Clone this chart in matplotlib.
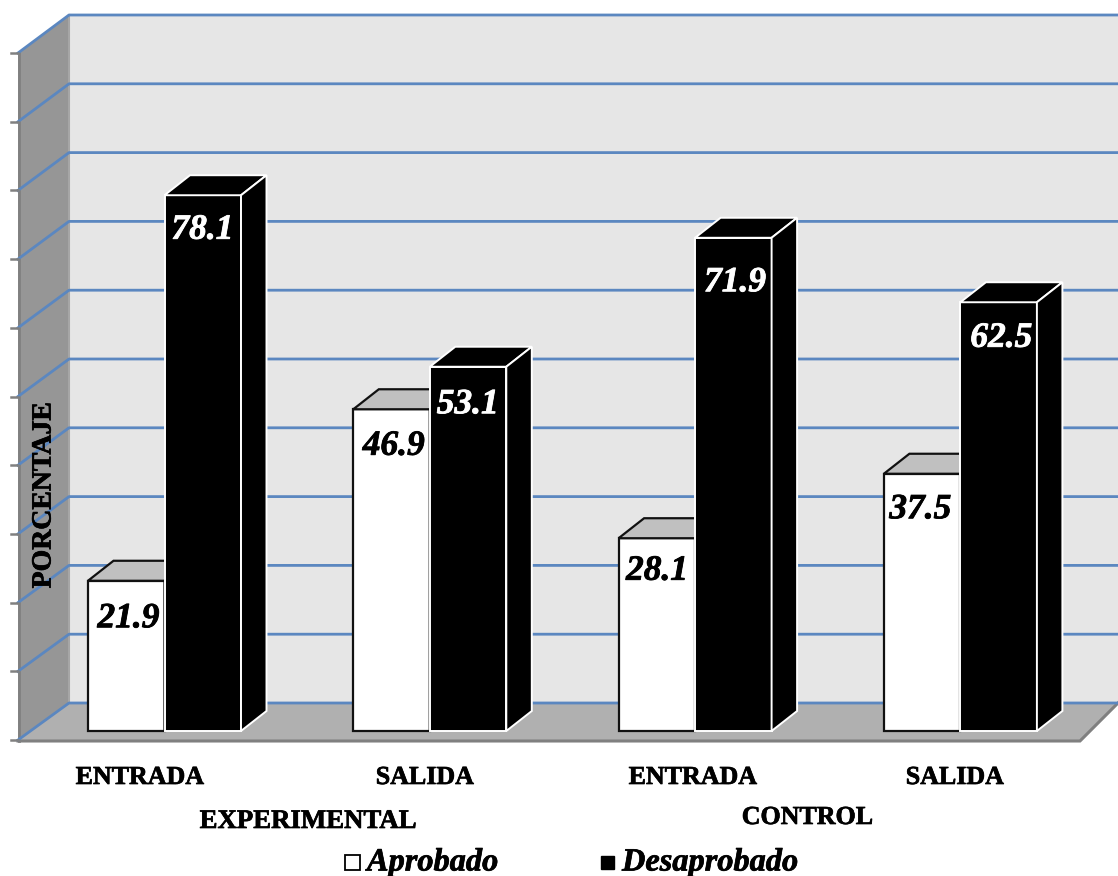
import matplotlib
matplotlib.use("Agg")
import matplotlib.pyplot as plt
import matplotlib.patheffects as pe
from matplotlib.patches import Polygon, Rectangle

# --- data ---
momentos = ["ENTRADA", "SALIDA", "ENTRADA", "SALIDA"]
aprobado = [21.9, 46.9, 28.1, 37.5]
desaprobado = [78.1, 53.1, 71.9, 62.5]
grupos = ["EXPERIMENTAL", "CONTROL"]
series = ["Aprobado", "Desaprobado"]
grid_vals = [0, 10, 20, 30, 40, 50, 60, 70, 80, 90, 100]

W, H = 1118, 876
plt.rcParams["font.family"] = ["Liberation Serif", "DejaVu Serif"]

fig = plt.figure(figsize=(W / 100, H / 100), dpi=100, facecolor="white")

# fondo en pixeles (paredes y piso)
bg = fig.add_axes([0, 0, 1, 1])
bg.set_xlim(0, W)
bg.set_ylim(H, 0)
bg.axis("off")

bg.add_patch(Polygon([(69, 15), (1118, 15), (1118, 703), (69, 703)], fc="#e6e6e6", ec="none"))
bg.add_patch(Polygon([(18, 53), (69, 15), (69, 703), (18, 740)], fc="#969696", ec="none"))
bg.add_patch(Polygon([(18, 740), (69, 703), (1118, 703), (1080, 741)], fc="#b0b0b0", ec="none"))
bg.plot([19, 19], [53, 741], color="#808080", lw=2)
bg.plot([69, 69], [15, 703], color="#a6a6a6", lw=1.5)
bg.plot([18, 1080, 1118], [741, 741, 703], color="#808080", lw=2.2, solid_joinstyle="miter")

for v in grid_vals:
    y_back = 703 - v * 6.88
    y_front = 740 - v * 6.87
    bg.plot([18, 69, 1118], [y_front, y_back, y_back], color="#5b87c0", lw=2, solid_joinstyle="round")
    bg.plot([11, 18], [y_front, y_front], color="#808080", lw=1.8)

# barras: x = indice de categoria, y = porcentaje
ax = fig.add_axes([0, 0, 1, 1])
paso = 265.3
ax.set_xlim(-164.5 / paso, (W - 164.5) / paso)
esc = 6.86
ax.set_ylim((731 - H) / esc, 731 / esc)
ax.axis("off")
ax.patch.set_alpha(0)

ancho = 76.5 / paso
dx = 25.5 / paso
dy = 20 / esc


def barra(x0, v, cara, borde, tapa, lw, z):
    ax.bar(x0, v, width=ancho, align="edge", color=cara, edgecolor=borde, linewidth=lw, zorder=z)
    x1 = x0 + ancho
    ax.add_patch(Polygon([(x0, v), (x0 + dx, v + dy), (x1 + dx, v + dy), (x1, v)],
                         fc=tapa, ec=borde, lw=lw, zorder=z))
    ax.add_patch(Polygon([(x1, 0), (x1 + dx, dy), (x1 + dx, v + dy), (x1, v)],
                         fc=cara, ec=borde, lw=lw, zorder=z))


for i in range(len(momentos)):
    barra(i - ancho, aprobado[i], "white", "#111111", "#c0c0c0", 1.6, 3)
    barra(i, desaprobado[i], "black", "white", "black", 1.4, 4)

off_a = [(-36, -38), (-36, -37), (-38, -33), (-40, -36)]
off_d = [(38, -35), (38, -38), (40, -45), (41, -36)]
lab_font = dict(fontsize=25.5, fontweight="bold", fontstyle="italic", ha="center", va="center", zorder=6)
for i in range(len(momentos)):
    t = ax.annotate(f"{aprobado[i]:.1f}", (i, aprobado[i]), xytext=off_a[i],
                    textcoords="offset pixels", color="black", **lab_font)
    t.set_path_effects([pe.withStroke(linewidth=0.6, foreground="black")])
    t = ax.annotate(f"{desaprobado[i]:.1f}", (i, desaprobado[i]), xytext=off_d[i],
                    textcoords="offset pixels", color="white", **lab_font)
    t.set_path_effects([pe.withStroke(linewidth=0.6, foreground="white")])

# textos
grueso = [pe.withStroke(linewidth=0.5, foreground="black")]
txt = dict(fontsize=18.7, fontweight="bold", color="black", ha="center", va="center", zorder=7,
           path_effects=grueso)
for x, m in zip([140, 425, 693, 955], momentos):
    bg.text(x, 777.5, m, **txt)
bg.text(308, 821.5, grupos[0], fontsize=19.3, fontweight="bold", color="black", ha="center",
        va="center", path_effects=grueso)
bg.text(807.5, 817.5, grupos[1], **txt)
ax.text(44, 495.5, "PORCENTAJE", rotation=90, transform=bg.transData, fontsize=20, fontweight="bold",
        color="black", ha="center", va="center", zorder=7, path_effects=grueso)

# leyenda
bg.add_patch(Rectangle((345, 855), 15, 15, fc="white", ec="black", lw=1.3))
bg.add_patch(Rectangle((601, 856), 13, 13, fc="black", ec="black", lw=1))
ley = dict(fontsize=23.3, fontweight="bold", fontstyle="italic", color="black", ha="left", va="center",
           path_effects=grueso)
bg.text(367, 863, series[0], **ley)
bg.text(622, 863, series[1], **ley)

fig.savefig("out.png", dpi=100)
